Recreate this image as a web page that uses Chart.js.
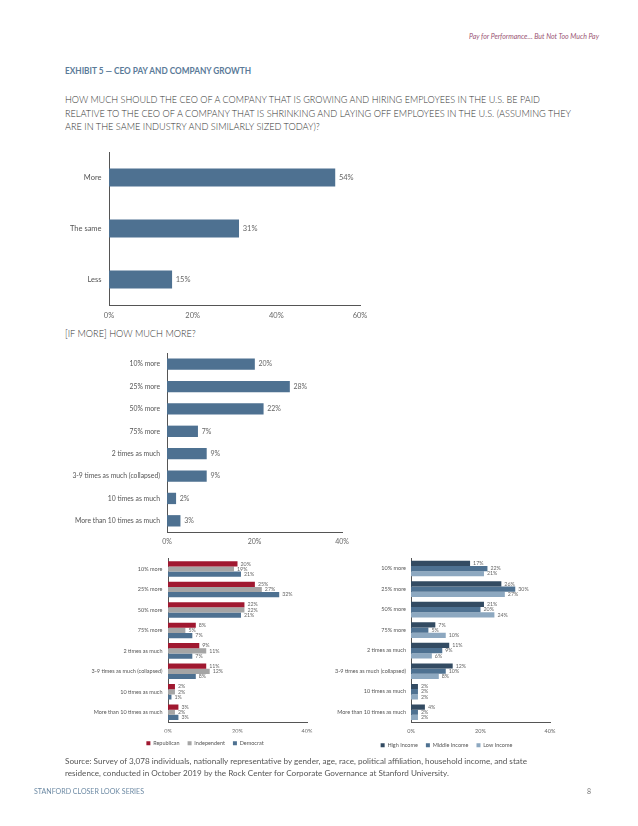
<!DOCTYPE html>
<html><head><meta charset="utf-8">
<script src="https://cdn.jsdelivr.net/npm/chart.js@4.4.1/dist/chart.umd.min.js"></script>
<style>
html,body{margin:0;padding:0;background:#fff;}
body{width:638px;height:826px;position:relative;overflow:hidden;font-family:Lato,'Open Sans',sans-serif;font-weight:300;}
.t{position:absolute;white-space:nowrap;line-height:1;transform-origin:0 50%;}
.c{position:absolute;}
</style></head><body>

<div class="t" id="hdr" data-x="469" data-y="36" data-w="130" style="font-size:7px;font-style:italic;font-weight:400;color:#9a5573;">Pay for Performance… But Not Too Much Pay</div>
<div class="t" id="exh" data-x="65" data-y="71" data-w="186" style="font-size:8.5px;font-weight:700;color:#5a7a98;">EXHIBIT 5 — CEO PAY AND COMPANY GROWTH</div>
<div class="t q" id="q1" data-x="65" data-y="100" data-w="475" style="font-size:9.5px;color:#333;">HOW MUCH SHOULD THE CEO OF A COMPANY THAT IS GROWING AND HIRING EMPLOYEES IN THE U.S. BE PAID</div>
<div class="t q" id="q2" data-x="65" data-y="113.5" data-w="506" style="font-size:9.5px;color:#333;">RELATIVE TO THE CEO OF A COMPANY THAT IS SHRINKING AND LAYING OFF EMPLOYEES IN THE U.S. (ASSUMING THEY</div>
<div class="t q" id="q3" data-x="65" data-y="127" data-ref="q2" style="font-size:9.5px;color:#333;">ARE IN THE SAME INDUSTRY AND SIMILARLY SIZED TODAY)?</div>
<div class="t q" id="q4" data-x="65" data-y="334" data-ref="q2" style="font-size:9.5px;color:#333;">[IF MORE] HOW MUCH MORE?</div>

<div class="c" style="left:0;top:140px;"><canvas id="c1" width="380" height="190"></canvas></div>
<div class="c" style="left:0;top:330px;"><canvas id="c2" width="380" height="220"></canvas></div>
<div class="c" style="left:20px;top:550px;"><canvas id="c3" width="370" height="206"></canvas></div>
<div class="c" style="left:320px;top:550px;"><canvas id="c4" width="254" height="208"></canvas></div>

<div class="t" id="s1" data-x="65" data-y="762" data-w="462" style="font-size:7.5px;font-weight:400;color:#555;">Source: Survey of 3,078 individuals, nationally representative by gender, age, race, political affiliation, household income, and state</div>
<div class="t" id="s2" data-x="65" data-y="774" data-ref="s1" style="font-size:7.5px;font-weight:400;color:#555;">residence, conducted in October 2019 by the Rock Center for Corporate Governance at Stanford University.</div>
<div class="t" id="ft" data-x="34" data-y="791" data-w="110" style="font-size:7px;font-weight:400;color:#6d8aa4;">STANFORD CLOSER LOOK SERIES</div>
<div class="t" id="pg" data-x="587" data-y="791" style="font-size:7px;font-weight:400;color:#777;">8</div>

<script>
// ---- data ----
const overallCategories = ['More', 'The same', 'Less'];
const overallValues = [54, 31, 15];

const amountCategories = ['10% more', '25% more', '50% more', '75% more', '2 times as much',
  '3-9 times as much (collapsed)', '10 times as much', 'More than 10 times as much'];
const amountValues = [20, 28, 22, 7, 9, 9, 2, 3];

const partySeries = ['Republican', 'Independent', 'Democrat'];
const republicanValues = [20, 25, 22, 8, 9, 11, 2, 3];
const independentValues = [19, 27, 22, 5, 11, 12, 2, 2];
const democratValues = [21, 32, 21, 7, 7, 8, 1, 3];

const incomeSeries = ['High Income', 'Middle Income', 'Low Income'];
const highIncomeValues = [17, 26, 21, 7, 11, 12, 2, 4];
const middleIncomeValues = [22, 30, 20, 5, 9, 10, 2, 2];
const lowIncomeValues = [21, 27, 24, 10, 6, 8, 2, 2];

// ---- text fitting ----
const scales = {};
document.querySelectorAll('.t').forEach(el => {
  const x = parseFloat(el.dataset.x), y = parseFloat(el.dataset.y);
  const h = el.getBoundingClientRect().height;
  el.style.left = x + 'px';
  el.style.top = (y - h / 2) + 'px';
  if (el.dataset.w) {
    const w = el.getBoundingClientRect().width;
    const s = parseFloat(el.dataset.w) / w;
    scales[el.id] = s;
    el.style.transform = 'scaleX(' + s + ')';
  }
});
document.querySelectorAll('.t').forEach(el => {
  if (el.dataset.ref && scales[el.dataset.ref]) {
    el.style.transform = 'scaleX(' + scales[el.dataset.ref] + ')';
  }
});

// ---- charts ----
Chart.defaults.font.family = 'Lato, "Open Sans", sans-serif';
Chart.defaults.animation = false;

const valueLabels = {
  id: 'valueLabels',
  afterDatasetsDraw(chart, args, opts) {
    const ctx = chart.ctx;
    ctx.save();
    ctx.font = opts.weight + ' ' + opts.size + 'px Lato, "Open Sans", sans-serif';
    ctx.fillStyle = opts.color || '#555';
    ctx.textBaseline = 'middle';
    ctx.textAlign = 'left';
    chart.data.datasets.forEach((ds, i) => {
      const meta = chart.getDatasetMeta(i);
      meta.data.forEach((bar, j) => {
        ctx.fillText(ds.data[j] + '%', bar.x + opts.offset, bar.y);
      });
    });
    ctx.restore();
  }
};

// moves the legend box horizontally so it is centred where the original places it
const legendShift = {
  id: 'legendShift',
  afterLayout(chart, args, opts) {
    const lg = chart.legend;
    if (!lg || opts.left == null) return;
    lg.left = opts.left;
    lg.right = opts.right;
    lg.width = opts.right - opts.left;
  }
};

function opts(o) {
  return {
    indexAxis: 'y',
    responsive: false,
    animation: false,
    layout: { padding: o.pad },
    plugins: {
      legend: o.legend ? {
        display: true, position: 'bottom',
        labels: { boxWidth: 4, boxHeight: 4, padding: 8, color: '#555', font: { size: 5.5, weight: o.weight } }
      } : { display: false },
      legendShift: o.legend || {},
      tooltip: { enabled: false },
      valueLabels: { size: o.labelSize, offset: o.labelOffset, color: '#666', weight: o.weight }
    },
    scales: {
      x: {
        min: 0, max: o.max,
        ticks: { stepSize: 20, padding: o.tickPad, color: '#666', font: { size: o.tickSize, weight: o.weight }, callback: v => v + '%' },
        grid: { display: false, drawTicks: false },
        border: { display: true, color: '#555', width: 1 },
        afterFit: s => { s.height = o.xHeight; }
      },
      y: {
        ticks: { padding: o.catPad, color: '#555', font: { size: o.catSize, weight: o.weight }, autoSkip: false },
        grid: { display: false, drawTicks: false },
        border: { display: true, color: '#555', width: 1 },
        afterFit: s => { s.width = o.yWidth; }
      }
    }
  };
}

const mainColor = '#4e7191';

new Chart(document.getElementById('c1'), {
  type: 'bar',
  data: { labels: overallCategories, datasets: [{ data: overallValues, backgroundColor: mainColor, barThickness: 17.5 }] },
  options: opts({ pad: { top: 9, right: 20, left: 0, bottom: 0 }, max: 60, yWidth: 109, xHeight: 25, weight: '400',
    tickPad: 6, tickSize: 7.5, catPad: 7.5, catSize: 7.5, labelSize: 7.5, labelOffset: 4 }),
  plugins: [valueLabels]
});

new Chart(document.getElementById('c2'), {
  type: 'bar',
  data: { labels: amountCategories, datasets: [{ data: amountValues, backgroundColor: mainColor, barThickness: 10.7 }] },
  options: opts({ pad: { top: 23, right: 38, left: 0, bottom: 0 }, max: 40, yWidth: 167, xHeight: 18, weight: '400',
    tickPad: 6, tickSize: 7, catPad: 7, catSize: 6.8, labelSize: 7, labelOffset: 4 }),
  plugins: [valueLabels]
});

new Chart(document.getElementById('c3'), {
  type: 'bar',
  data: {
    labels: amountCategories,
    datasets: [
      { label: partySeries[0], data: republicanValues, backgroundColor: '#a01830', categoryPercentage: 0.76, barPercentage: 1 },
      { label: partySeries[1], data: independentValues, backgroundColor: '#a5a5a5', categoryPercentage: 0.76, barPercentage: 1 },
      { label: partySeries[2], data: democratValues, backgroundColor: '#4e7191', categoryPercentage: 0.76, barPercentage: 1 }
    ]
  },
  options: opts({ pad: { top: 7, right: 83, left: 0, bottom: 0 }, max: 40, yWidth: 148, xHeight: 10, weight: '400',
    tickPad: 5, tickSize: 5.5, catPad: 5.5, catSize: 5.5, labelSize: 5.3, labelOffset: 3,
    legend: { left: 83, right: 287 } }),
  plugins: [valueLabels, legendShift]
});

new Chart(document.getElementById('c4'), {
  type: 'bar',
  data: {
    labels: amountCategories,
    datasets: [
      { label: incomeSeries[0], data: highIncomeValues, backgroundColor: '#334b62', categoryPercentage: 0.76, barPercentage: 1 },
      { label: incomeSeries[1], data: middleIncomeValues, backgroundColor: '#4e7191', categoryPercentage: 0.76, barPercentage: 1 },
      { label: incomeSeries[2], data: lowIncomeValues, backgroundColor: '#8da8c0', categoryPercentage: 0.76, barPercentage: 1 }
    ]
  },
  options: opts({ pad: { top: 7, right: 24, left: 0, bottom: 0 }, max: 40, yWidth: 91, xHeight: 12, weight: '400',
    tickPad: 5, tickSize: 5.5, catPad: 5, catSize: 5.5, labelSize: 5.3, labelOffset: 3,
    legend: { left: 23, right: 230 } }),
  plugins: [valueLabels, legendShift]
});
</script>
</body></html>
